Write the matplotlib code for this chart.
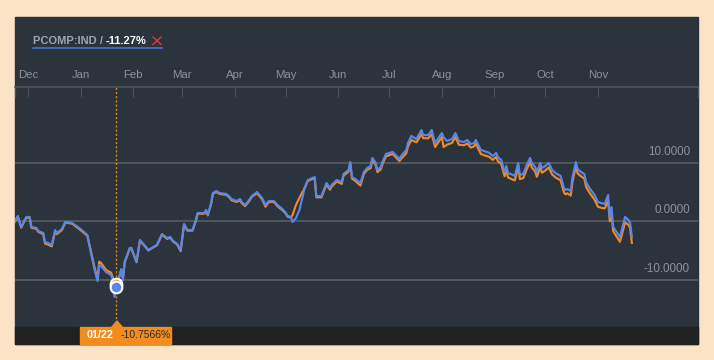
import matplotlib
matplotlib.use("Agg")
import matplotlib.pyplot as plt
import pandas as pd
from matplotlib.patches import Rectangle, Polygon
from matplotlib.lines import Line2D

plt.rcParams['font.family'] = ['Liberation Sans', 'DejaVu Sans']

# ---------------- data ----------------
START = "2023-12-01"
DAYS = [-8, -6, -4, -2, -1, 1, 2, 5, 6, 9, 10, 12, 14, 16, 17, 20, 22, 26, 31, 35,
        37, 39, 41, 42, 43, 45, 46, 49, 50, 51, 52, 53, 55, 56, 57, 60, 61, 64, 66, 69,
        71, 73, 76, 79, 82, 84, 85, 88, 90, 92, 94, 97, 99, 100, 104, 105, 106, 108, 109, 111,
        113, 117, 119, 120, 123, 125, 126, 128, 130, 132, 135, 138, 140, 142, 145, 147, 150, 152, 153, 155,
        156, 158, 160, 162, 163, 165, 169, 170, 173, 176, 178, 179, 182, 185, 186, 189, 190, 191, 193, 196,
        198, 200, 202, 203, 205, 206, 208, 209, 211, 215, 219, 220, 223, 224, 226, 229, 232, 233, 236, 238,
        240, 244, 245, 247, 250, 252, 254, 257, 259, 261, 263, 264, 267, 269, 272, 274, 276, 277, 279, 281,
        282, 283, 286, 287, 289, 290, 292, 294, 296, 297, 299, 300, 302, 303, 305, 307, 309, 311, 314, 316,
        317, 318, 320, 321, 323, 324, 326, 328, 329, 331, 334, 336, 338, 340, 342, 343, 344, 345, 347, 349,
        352, 354, 355, 356]
PCOMP = [-0.12, 0.91, -0.97, 0.22, 0.74, 0.74, -0.97, -1.15, -1.66, -2.0, -3.54, -3.71, -4.05, -1.49, -2.0, -1.32, -0.12, -0.29, -1.32, -2.34,
         -5.25, -7.98, -10.21, -7.47, -7.64, -8.32, -8.67, -9.18, -10.04, -12.94, -11.23, -10.38, -8.15, -10.04, -6.96, -4.56, -4.56, -6.96, -3.2, -4.22,
         -4.9, -4.56, -4.05, -2.17, -2.85, -2.68, -3.2, -3.88, -4.9, -0.46, -1.49, -1.49, 0.22, 1.42, 1.42, 1.93, 1.08, 3.13, 4.84, 5.18,
         4.84, 4.67, 4.15, 3.81, 3.47, 3.81, 3.3, 2.79, 3.47, 4.32, 5.01, 3.98, 2.79, 3.47, 3.47, 2.79, 2.1, 1.42, 0.91, 0.74,
         -0.12, 0.56, 1.93, 4.32, 5.69, 7.06, 7.57, 4.32, 4.32, 6.55, 5.69, 6.21, 7.06, 6.72, 8.09, 8.77, 10.14, 7.57, 7.23, 6.55,
         8.43, 9.11, 9.45, 10.82, 9.97, 8.77, 9.28, 10.14, 11.5, 11.85, 10.65, 11.16, 12.19, 13.38, 14.58, 14.07, 15.61, 14.75, 14.75, 15.61,
         13.38, 15.09, 14.41, 13.73, 14.07, 15.09, 13.73, 13.56, 13.9, 13.21, 13.38, 13.9, 12.19, 12.02, 11.68, 11.16, 11.68, 10.99, 10.48, 8.43,
         9.45, 8.26, 7.91, 7.74, 9.97, 7.91, 8.09, 9.62, 10.82, 9.97, 9.28, 8.43, 9.97, 9.11, 9.45, 9.97, 8.77, 8.26, 7.74, 5.69,
         5.35, 5.52, 5.18, 7.57, 10.14, 8.94, 8.43, 8.09, 6.72, 5.69, 4.5, 3.3, 3.13, 2.96, 4.5, 0.74, 2.44, -0.97, -1.83, -2.68,
         0.74, 0.22, -0.29, -2.68]
BENCH = [-0.2, 0.8, -1.1, 0.1, 0.6, 0.6, -1.1, -1.3, -1.8, -2.2, -3.8, -4.0, -4.3, -1.7, -2.2, -1.5, -0.2, -0.4, -1.5, -2.5,
         -5.0, -7.6, -9.9, -6.9, -7.1, -7.9, -8.3, -8.8, -9.6, -10.5, -10.7566, -10.3, -8.3, -9.8, -7.0, -4.7, -4.7, -7.0, -3.3, -4.3,
         -5.0, -4.6, -4.1, -2.3, -3.0, -2.8, -3.3, -4.0, -5.1, -0.6, -1.6, -1.6, 0.1, 1.3, 1.3, 1.8, 1.0, 3.0, 4.7, 5.0,
         4.7, 4.5, 4.0, 3.6, 3.3, 3.6, 3.1, 2.6, 3.3, 4.2, 4.8, 3.8, 2.5, 3.3, 3.3, 2.6, 1.9, 1.3, 0.8, 0.6,
         1.1, 2.8, 4.0, 5.1, 5.6, 6.9, 7.4, 4.1, 4.1, 6.3, 5.4, 5.9, 6.8, 6.4, 7.8, 8.5, 9.9, 7.3, 6.9, 6.1,
         8.1, 8.8, 9.1, 10.5, 9.6, 8.4, 8.9, 9.8, 11.1, 11.5, 10.3, 10.7, 11.6, 12.8, 13.9, 13.5, 14.9, 14.2, 14.2, 14.9,
         12.7, 14.4, 12.7, 13.1, 13.4, 14.4, 13.1, 13.0, 13.3, 12.6, 12.8, 13.3, 11.5, 11.3, 11.0, 10.5, 11.0, 10.3, 9.8, 7.7,
         8.8, 7.5, 7.1, 7.0, 9.3, 7.2, 7.4, 8.9, 10.1, 9.2, 8.5, 7.6, 9.2, 8.3, 8.7, 9.2, 8.0, 7.5, 7.0, 4.9,
         4.6, 4.8, 4.4, 6.8, 9.4, 8.2, 7.7, 7.3, 5.9, 4.9, 3.7, 2.5, 2.3, 2.2, 3.5, 0.0, 1.6, -1.7, -2.6, -3.5,
         -0.2, -0.6, -1.2, -3.7]
MONTHS = ["Dec", "Jan", "Feb", "Mar", "Apr", "May", "Jun", "Jul", "Aug", "Sep", "Oct", "Nov"]
Y_TICKS = [-10, 0, 10]
TITLE_NAME = "PCOMP:IND / "
TITLE_CHANGE = "-11.27%"
HOVER_DAY = 52
HOVER_LABEL = "01/22"
HOVER_VALUE = -10.7566

# ---------------- style ----------------
BG = "#fde3c5"
PANEL = "#2b333d"
STRIP = "#212121"
BLUE = "#5a86e8"
ORANGE = "#ef8a25"
GRID = "#5c6168"
AXC = "#4e545b"
LBL = "#8a929c"

W, H = 714, 360
fig = plt.figure(figsize=(W / 100, H / 100), dpi=100, facecolor=BG)


def fx(px):
    return px / W


def fy(py):
    return 1 - py / H


fig.patches.append(Rectangle((fx(15), fy(344)), fx(698) - fx(15), fy(17) - fy(344),
                             transform=fig.transFigure, color=PANEL, zorder=0))
fig.patches.append(Rectangle((fx(15), fy(344)), fx(698) - fx(15), fy(327) - fy(344),
                             transform=fig.transFigure, color=STRIP, zorder=0))

ax = fig.add_axes([fx(15), fy(327), fx(698) - fx(15), fy(87) - fy(327)])
ax.set_facecolor("none")
ax.set_zorder(1)

t0 = pd.Timestamp(START)
dates = t0 + pd.to_timedelta(DAYS, unit="D")
ax.plot(dates, BENCH, color=ORANGE, lw=1.55, zorder=3, solid_joinstyle="round")
ax.plot(dates, PCOMP, color=BLUE, lw=1.55, zorder=4, solid_joinstyle="round")

ax.set_ylim(-18.07, 22.96)
ax.set_xlim(t0 - pd.Timedelta(days=7.66), t0 + pd.Timedelta(days=395))

for v in Y_TICKS:
    ax.axhline(v, color=GRID, lw=1.1, zorder=1)
    ax.text(0.988, v + 1.85, f"{v:.4f}", transform=ax.get_yaxis_transform(),
            ha="right", va="center", color=LBL, fontsize=8.4)

month_starts = pd.date_range(START, periods=len(MONTHS), freq="MS")
ax.set_xticks(month_starts)
ax.set_xticklabels(MONTHS)
ax.xaxis.tick_top()
ax.tick_params(axis="x", direction="in", length=7.2, width=0.8, color=AXC,
               labelcolor=LBL, labelsize=8.2, pad=4.7)
ax.set_yticks([])
for s in ["left", "right", "bottom"]:
    ax.spines[s].set_visible(False)
ax.spines["top"].set_color(AXC)
ax.spines["top"].set_linewidth(1.2)
for xe in (0, 1):
    ax.plot([xe, xe], [1, 1 - 10 / 240], transform=ax.transAxes, color=AXC,
            lw=0.9, clip_on=False, zorder=5)

# hover
hd = t0 + pd.Timedelta(days=HOVER_DAY)
ax.axvline(hd, color="#d4881c", lw=1.0, ls=(0, (1.5, 1.5)), zorder=2)
hi = DAYS.index(HOVER_DAY)
ax.plot([hd], [HOVER_VALUE], "o", ms=8.4, mfc=ORANGE, mec="white", mew=1.5, zorder=6)
ax.plot([hd], [PCOMP[hi]], "o", ms=8.4, mfc=BLUE, mec="white", mew=1.5, zorder=7)

# tooltip
fig.patches.append(Rectangle((fx(80), fy(344)), fx(171) - fx(80), fy(327) - fy(344),
                             transform=fig.transFigure, color="#f28c1f", zorder=2))
fig.patches.append(Polygon([(fx(111), fy(328)), (fx(123), fy(328)), (fx(117), fy(321))],
                           closed=True, transform=fig.transFigure, color="#f28c1f", zorder=2))
fig.text(fx(100), fy(335.5), HOVER_LABEL, ha="center", va="center", color="white",
         fontsize=7.8, fontweight="bold", zorder=3)
fig.text(fx(121), fy(335.5), f"{HOVER_VALUE:.4f}%", ha="left", va="center", color="#2a2a2a",
         fontsize=7.5, zorder=3)

# title
fig.text(fx(33), fy(40.5), TITLE_NAME, ha="left", va="center", color="#a3a7ad",
         fontsize=8, fontweight="bold", zorder=3)
fig.text(fx(106), fy(40.5), TITLE_CHANGE, ha="left", va="center", color="white",
         fontsize=8, fontweight="bold", zorder=3)
fig.lines.append(Line2D([fx(33), fx(162)], [fy(48.3), fy(48.3)], transform=fig.transFigure,
                        color="#4f78e0", lw=1.1, zorder=3))
fig.lines.append(Line2D([fx(153), fx(161)], [fy(37), fy(44.5)], transform=fig.transFigure,
                        color="#e0383e", lw=1.0, zorder=3))
fig.lines.append(Line2D([fx(153), fx(161)], [fy(44.5), fy(37)], transform=fig.transFigure,
                        color="#e0383e", lw=1.0, zorder=3))

fig.savefig("out.png", dpi=100, facecolor=BG)
